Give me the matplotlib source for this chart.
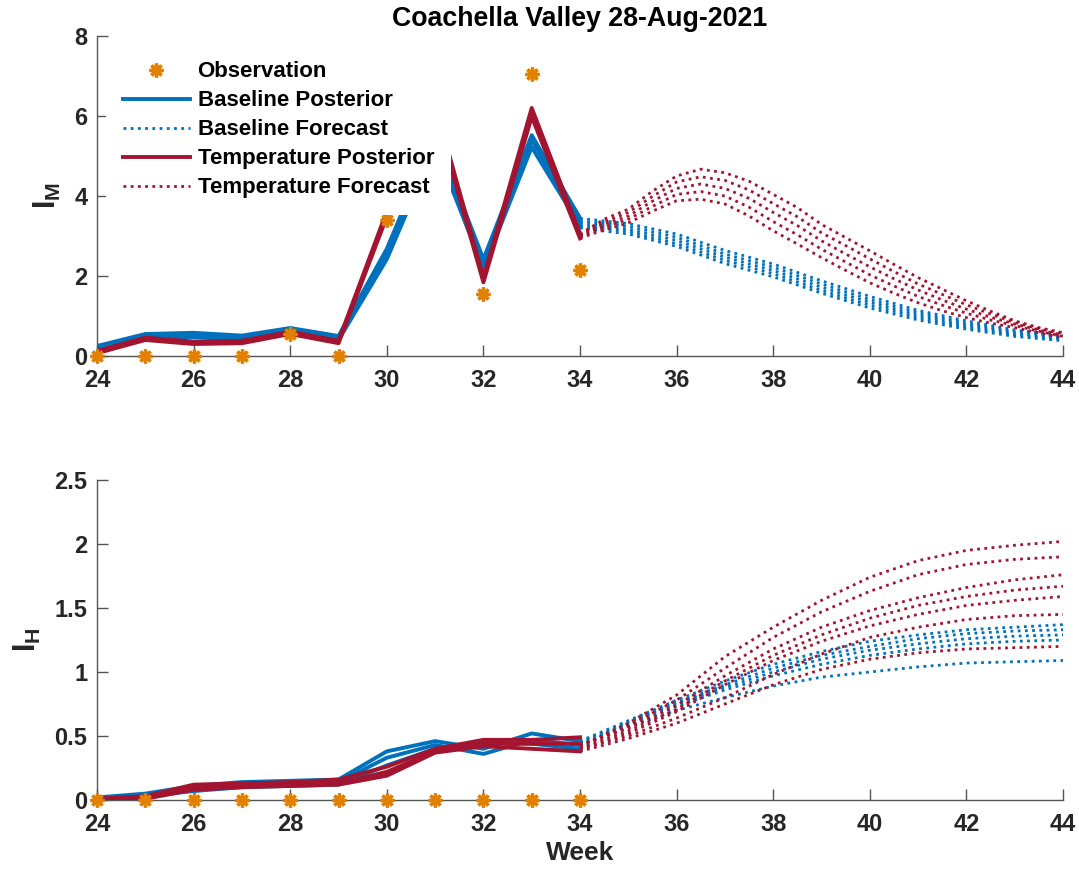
import matplotlib.pyplot as plt
import numpy as np

plt.rcParams['font.family'] = ['Liberation Sans', 'DejaVu Sans']
plt.rcParams['font.weight'] = 'bold'
plt.rcParams['mathtext.fontset'] = 'custom'
plt.rcParams['mathtext.bf'] = 'Liberation Sans:bold'
plt.rcParams['mathtext.rm'] = 'Liberation Sans:bold'

BLUE = '#0072BD'
RED = '#A2142F'
ORANGE = '#E28000'
AXC = '#262626'
SPINE = '#555555'

weeks_fit = [24, 25, 26, 27, 28, 29, 30, 31, 32, 33, 34]
weeks_fc = [34, 35, 36, 37, 38, 39, 40, 41, 42, 43, 44]
weeks_fc_half = [34, 34.5, 35, 35.5, 36, 36.5, 37, 37.5, 38, 38.5, 39,
                 39.5, 40, 40.5, 41, 41.5, 42, 42.5, 43, 43.5, 44]

# observations
obs_im = [0, 0, 0, 0, 0.55, 0, 3.4, 6.2, 1.55, 7.05, 2.15]
obs_ih = [0, 0, 0, 0, 0, 0, 0, 0, 0, 0, 0]

# I_M posterior ensembles
im_base_post = [
    [0.25, 0.55, 0.58, 0.51, 0.70, 0.50, 2.68, 5.55, 2.42, 5.52, 3.45],
    [0.20, 0.50, 0.52, 0.46, 0.65, 0.45, 2.55, 5.40, 2.30, 5.40, 3.35],
    [0.15, 0.45, 0.47, 0.41, 0.60, 0.40, 2.42, 5.25, 2.18, 5.22, 3.25],
]
im_temp_post = [
    [0.13, 0.46, 0.36, 0.38, 0.61, 0.38, 3.62, 6.30, 1.96, 6.20, 3.06],
    [0.10, 0.43, 0.33, 0.35, 0.58, 0.35, 3.55, 6.20, 1.90, 6.10, 3.00],
    [0.07, 0.40, 0.30, 0.32, 0.55, 0.32, 3.48, 6.10, 1.84, 5.98, 2.94],
]
# I_M forecast ensembles
im_base_fc = [
    [3.44, 3.31, 3.05, 2.64, 2.30, 1.88, 1.49, 1.14, 0.88, 0.65, 0.51],
    [3.38, 3.24, 2.97, 2.55, 2.22, 1.80, 1.41, 1.08, 0.82, 0.61, 0.48],
    [3.32, 3.17, 2.89, 2.47, 2.14, 1.72, 1.34, 1.02, 0.77, 0.57, 0.45],
    [3.26, 3.11, 2.81, 2.39, 2.06, 1.64, 1.27, 0.96, 0.72, 0.53, 0.42],
    [3.20, 3.05, 2.74, 2.31, 1.98, 1.57, 1.20, 0.90, 0.67, 0.49, 0.38],
]
im_temp_fc = [
    [3.05, 3.42, 3.67, 4.12, 4.50, 4.67, 4.58, 4.37, 4.04, 3.71, 3.29,
     2.96, 2.63, 2.29, 1.96, 1.67, 1.38, 1.12, 0.88, 0.71, 0.58],
    [3.03, 3.35, 3.59, 3.99, 4.35, 4.48, 4.39, 4.15, 3.81, 3.48, 3.08,
     2.76, 2.43, 2.11, 1.80, 1.54, 1.28, 1.05, 0.84, 0.68, 0.55],
    [3.00, 3.29, 3.50, 3.87, 4.19, 4.30, 4.19, 3.94, 3.59, 3.26, 2.88,
     2.55, 2.23, 1.93, 1.65, 1.40, 1.17, 0.97, 0.80, 0.65, 0.52],
    [2.98, 3.22, 3.42, 3.74, 4.04, 4.11, 4.00, 3.72, 3.36, 3.03, 2.67,
     2.35, 2.03, 1.75, 1.49, 1.27, 1.07, 0.90, 0.76, 0.62, 0.49],
    [2.95, 3.15, 3.33, 3.62, 3.88, 3.92, 3.80, 3.50, 3.13, 2.80, 2.46,
     2.14, 1.83, 1.57, 1.33, 1.13, 0.96, 0.82, 0.71, 0.58, 0.46],
]

# I_H posterior ensembles
ih_base_post = [
    [0.02, 0.05, 0.11, 0.14, 0.15, 0.16, 0.38, 0.46, 0.40, 0.52, 0.46],
    [0.01, 0.04, 0.09, 0.12, 0.13, 0.14, 0.33, 0.43, 0.36, 0.47, 0.43],
    [0.01, 0.03, 0.07, 0.10, 0.11, 0.12, 0.27, 0.40, 0.45, 0.44, 0.40],
]
ih_temp_post = [
    [0.01, 0.03, 0.12, 0.13, 0.14, 0.16, 0.26, 0.40, 0.47, 0.47, 0.49],
    [0.00, 0.02, 0.10, 0.11, 0.12, 0.13, 0.22, 0.38, 0.44, 0.44, 0.44],
    [0.00, 0.01, 0.08, 0.10, 0.11, 0.12, 0.19, 0.37, 0.42, 0.40, 0.38],
]
# I_H forecast ensembles
ih_base_fc = [
    [0.46, 0.62, 0.78, 0.93, 1.06, 1.16, 1.24, 1.29, 1.33, 1.35, 1.37],
    [0.45, 0.61, 0.76, 0.90, 1.03, 1.13, 1.20, 1.26, 1.30, 1.32, 1.33],
    [0.44, 0.60, 0.75, 0.88, 1.00, 1.10, 1.17, 1.22, 1.26, 1.28, 1.29],
    [0.43, 0.58, 0.73, 0.86, 0.97, 1.06, 1.13, 1.18, 1.22, 1.24, 1.25],
    [0.43, 0.57, 0.70, 0.80, 0.89, 0.96, 1.00, 1.04, 1.07, 1.08, 1.09],
]
ih_temp_fc = [
    [0.42, 0.60, 0.82, 1.12, 1.35, 1.56, 1.74, 1.87, 1.95, 1.99, 2.02],
    [0.42, 0.58, 0.78, 1.03, 1.27, 1.47, 1.63, 1.76, 1.84, 1.88, 1.90],
    [0.43, 0.56, 0.74, 0.97, 1.18, 1.35, 1.48, 1.58, 1.66, 1.72, 1.76],
    [0.41, 0.54, 0.71, 0.93, 1.13, 1.29, 1.42, 1.52, 1.59, 1.64, 1.67],
    [0.40, 0.52, 0.69, 0.90, 1.09, 1.24, 1.36, 1.45, 1.52, 1.56, 1.59],
    [0.40, 0.50, 0.64, 0.80, 0.98, 1.14, 1.27, 1.35, 1.41, 1.44, 1.45],
    [0.38, 0.48, 0.60, 0.75, 0.90, 1.02, 1.10, 1.15, 1.18, 1.19, 1.20],
]

dot = (0, (1, 1.6))
star = (8, 2, 0)


def draw(ax, base_post, temp_post, base_fc, temp_fc, obs, x_base_fc, x_temp_fc):
    h = {}
    h['obs'], = ax.plot(weeks_fit, obs, linestyle='none', marker=star, ms=10,
                        mew=2.4, color=ORANGE, zorder=10, clip_on=False)
    for i, y in enumerate(base_post):
        l, = ax.plot(weeks_fit, y, color=BLUE, lw=2.8, zorder=3)
        if i == 0:
            h['bp'] = l
    for i, y in enumerate(base_fc):
        l, = ax.plot(x_base_fc, y, color=BLUE, lw=2.0, ls=dot, zorder=3)
        if i == 0:
            h['bf'] = l
    for i, y in enumerate(temp_post):
        l, = ax.plot(weeks_fit, y, color=RED, lw=2.8, zorder=4)
        if i == 0:
            h['tp'] = l
    for i, y in enumerate(temp_fc):
        l, = ax.plot(x_temp_fc, y, color=RED, lw=2.0, ls=dot, zorder=4)
        if i == 0:
            h['tf'] = l
    ax.set_xlim(24, 44)
    ax.set_xticks(np.arange(24, 45, 2))
    for s in ['top', 'right']:
        ax.spines[s].set_visible(False)
    for s in ['left', 'bottom']:
        ax.spines[s].set_color(SPINE)
        ax.spines[s].set_linewidth(1.0)
    ax.tick_params(direction='in', length=8, width=1.0, color=SPINE,
                   labelcolor=AXC, labelsize=17, pad=9)
    ax.tick_params(axis='y', pad=7)
    for t in ax.get_xticklabels() + ax.get_yticklabels():
        t.set_fontweight('bold')
    return h


fig = plt.figure(figsize=(10.79, 8.73), dpi=100)
ax1 = fig.add_axes([0.0899, 0.5922, 0.8953, 0.3666])
ax2 = fig.add_axes([0.0899, 0.0836, 0.8953, 0.3666])

h = draw(ax1, im_base_post, im_temp_post, im_base_fc, im_temp_fc, obs_im,
         weeks_fc, weeks_fc_half)
ax1.set_ylim(0, 8)
ax1.set_yticks([0, 2, 4, 6, 8])
ax1.set_ylabel(r'$\mathbf{I_M}$', fontsize=22, color=AXC, labelpad=8)
ax1.set_title('Coachella Valley 28-Aug-2021', fontsize=19.3, fontweight='bold',
              color='black', pad=7)

# opaque legend box, hides the week-31 peak like the original figure
leg = ax1.legend([h['obs'], h['bp'], h['bf'], h['tp'], h['tf']],
                 ['Observation', 'Baseline Posterior', 'Baseline Forecast',
                  'Temperature Posterior', 'Temperature Forecast'],
                 loc='upper left', bbox_to_anchor=(0.0096, 0.9725),
                 frameon=True, fancybox=False, framealpha=1,
                 facecolor='white', edgecolor='none',
                 prop={'size': 16, 'weight': 'bold'},
                 handlelength=3.0, handletextpad=0.36, labelspacing=0.36,
                 borderpad=0.75, borderaxespad=0)
leg.set_zorder(20)

draw(ax2, ih_base_post, ih_temp_post, ih_base_fc, ih_temp_fc, obs_ih,
     weeks_fc, weeks_fc)
ax2.set_ylim(0, 2.5)
ax2.set_yticks([0, 0.5, 1, 1.5, 2, 2.5])
ax2.set_yticklabels(['0', '0.5', '1', '1.5', '2', '2.5'])
ax2.set_ylabel(r'$\mathbf{I_H}$', fontsize=22, color=AXC, labelpad=8)
ax2.set_xlabel('Week', fontsize=19, fontweight='bold', color=AXC, labelpad=4)

fig.savefig('out.png', dpi=100)
